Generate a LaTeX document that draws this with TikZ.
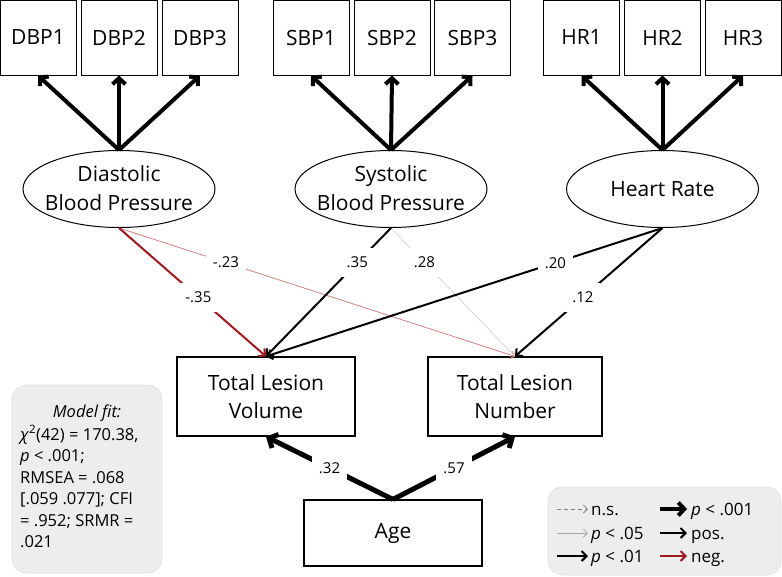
\documentclass[tikz,border=0pt]{standalone}
\usepackage{fontspec}
\setmainfont{Open Sans}
\usetikzlibrary{arrows.meta,shapes.geometric}
\definecolor{negred}{RGB}{160,25,30}
\definecolor{lightred}{RGB}{212,130,130}
\definecolor{lightgrayline}{RGB}{195,195,195}
\definecolor{boxgray}{RGB}{237,237,237}
\definecolor{boxedge}{RGB}{225,225,225}
\begin{document}
\begin{tikzpicture}[x=1pt,y=-1pt,
  ind/.style={draw, line width=1pt, minimum width=76pt, minimum height=75pt, inner sep=0pt, font=\fontsize{21}{28}\selectfont},
  lat/.style={draw, ellipse, line width=1pt, minimum width=192pt, minimum height=77pt, inner sep=0pt},
  lattext/.style={align=center, inner sep=0pt, font=\fontsize{21}{28.5}\selectfont},
  outbox/.style={draw, line width=1.2pt, minimum width=178pt, inner sep=0pt, align=center, font=\fontsize{21}{28}\selectfont},
  pthree/.style={line width=4pt, -{Straight Barb[length=6pt,width=13pt]}},
  pfour/.style={line width=5pt, -{Straight Barb[length=7pt,width=15pt]}},
  ptwo/.style={line width=2pt, -{Straight Barb[length=5pt,width=10pt]}},
  pone/.style={line width=0.8pt, -{Straight Barb[length=4pt,width=8pt]}},
  coef/.style={fill=white, inner xsep=7pt, inner ysep=9pt, font=\fontsize{15}{16}\selectfont},
  infobox/.style={fill=boxgray, draw=boxedge, line width=0.6pt, rounded corners=14pt, inner sep=0pt},
  fittext/.style={anchor=base west, inner sep=0pt, font=\fontsize{16.5}{20}\selectfont},
  legtext/.style={anchor=base west, inner sep=0pt, font=\fontsize{17}{20}\selectfont}
]
\useasboundingbox (0,0) rectangle (782,576);

% indicator boxes
\node[ind] (dbp1) at (38,37.5) {DBP1};
\node[ind] (dbp2) at (119,37.5) {DBP2};
\node[ind] (dbp3) at (200,37.5) {DBP3};
\node[ind] (sbp1) at (311,37.5) {SBP1};
\node[ind] (sbp2) at (392,37.5) {SBP2};
\node[ind] (sbp3) at (472.5,37.5) {SBP3};
\node[ind] (hr1) at (581.5,37.5) {HR1};
\node[ind] (hr2) at (662.5,37.5) {HR2};
\node[ind] (hr3) at (743,37.5) {HR3};

% latent variables
\node[lat] (dbp) at (119,189) {};
\node[lattext] (dbpT) at (119,188) {Diastolic\\Blood Pressure};
\node[lat] (sbp) at (391,189) {};
\node[lattext] (sbpT) at (391,188) {Systolic\\Blood Pressure};
\node[lat] (hr) at (662.5,189) {};
\node[lattext] (hrT) at (662.5,189) {Heart Rate};

% outcomes
\node[outbox, minimum height=79pt] (tlv) at (266,396.5) {Total Lesion\\Volume};
\node[outbox, minimum width=174pt, minimum height=79pt] (tln) at (515,396.5) {Total Lesion\\Number};
\node[outbox, minimum height=66pt] (age) at (393,533) {Age};

% loadings
\foreach \l/\i in {dbp/dbp1,dbp/dbp2,dbp/dbp3,sbp/sbp1,sbp/sbp2,sbp/sbp3,hr/hr1,hr/hr2,hr/hr3}
  \draw[pthree] (\l.north) -- (\i.south);

% structural paths
\draw[pone, lightred] (dbp.south) -- node[coef, pos=0.27, text=black] (c23) {-.23} (tln.north);
\draw[pone, lightgrayline, line width=0.5pt] (sbp.south) -- node[coef, pos=0.27, text=black] (c28) {.28} (tln.north);
\draw[ptwo, negred] (dbp.south) -- node[coef, pos=0.54, text=black] (c35n) {-.35} (tlv.north);
\draw[ptwo] (sbp.south) -- node[coef, pos=0.27] (c35) {.35} (tlv.north);
\draw[ptwo] (hr.south) -- node[coef, pos=0.27] (c20) {.20} (tlv.north);
\draw[ptwo] (hr.south) -- node[coef, pos=0.54] (c12) {.12} (tln.north);

% age paths
\draw[pfour] (age.north) -- node[coef, pos=0.5] (c32) {.32} (tlv.south);
\draw[pfour] (age.north) -- node[coef, pos=0.5] (c57) {.57} (tln.south);

% model fit box
\node[infobox, minimum width=150pt, minimum height=188pt] (fit) at (87,479) {};
\node[anchor=base, inner sep=0pt, font=\fontsize{16.5}{20}\selectfont] (fit0) at (87,417.5) {\textit{Model fit:}};
\node[fittext] (fit1) at (20,440) {\textit{χ}\textsuperscript{2}(42) = 170.38,};
\node[fittext] (fit2) at (20,461.5) {\textit{p} < .001;};
\node[fittext] (fit3) at (20,483) {RMSEA = .068};
\node[fittext] (fit4) at (20,504.5) {[.059 .077]; CFI};
\node[fittext] (fit5) at (20,526) {= .952; SRMR =};
\node[fittext] (fit6) at (20,547.5) {.021};

% legend
\node[infobox, minimum width=233pt, minimum height=88pt] (legend) at (664.5,531) {};
\coordinate (la1) at (557,509); \coordinate (lb1) at (588,509);
\coordinate (la2) at (557,533); \coordinate (lb2) at (588,533);
\coordinate (la3) at (557,556); \coordinate (lb3) at (588,556);
\coordinate (ra1) at (660,509); \coordinate (rb1) at (687,509);
\coordinate (ra2) at (660,533); \coordinate (rb2) at (687,533);
\coordinate (ra3) at (660,556); \coordinate (rb3) at (687,556);
\draw[line width=0.8pt, gray, dash pattern=on 4pt off 3pt, -{Straight Barb[length=4pt,width=8pt]}] (la1) -- (lb1);
\draw[pone, gray!70] (la2) -- (lb2);
\draw[ptwo] (la3) -- (lb3);
\draw[pthree] (ra1) -- (rb1);
\draw[ptwo] (ra2) -- (rb2);
\draw[ptwo, negred] (ra3) -- (rb3);
\node[legtext] (lt1) at (591,515) {n.s.};
\node[legtext] (lt2) at (591,539) {\textit{p} < .05};
\node[legtext] (lt3) at (591,562) {\textit{p} < .01};
\node[legtext] (rt1) at (691,515) {\textit{p} < .001};
\node[legtext] (rt2) at (691,539) {pos.};
\node[legtext] (rt3) at (691,562) {neg.};
\end{tikzpicture}
\end{document}
